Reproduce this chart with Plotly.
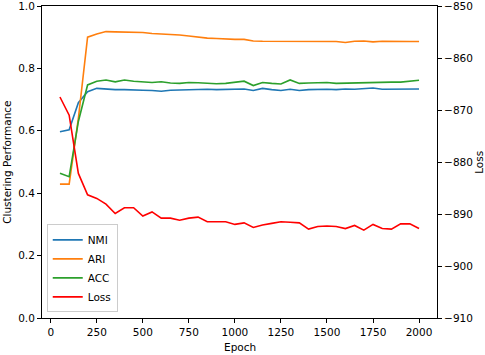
import plotly.graph_objects as go

epochs = list(range(50, 2001, 50))

nmi = [0.597, 0.603, 0.690, 0.725, 0.736, 0.733, 0.732, 0.732, 0.730, 0.730,
       0.729, 0.727, 0.730, 0.731, 0.731, 0.733, 0.733, 0.732, 0.733, 0.734,
       0.734, 0.729, 0.736, 0.732, 0.729, 0.733, 0.729, 0.732, 0.733, 0.733,
       0.732, 0.734, 0.733, 0.735, 0.737, 0.733, 0.733, 0.732, 0.733, 0.734]

ari = [0.429, 0.429, 0.640, 0.900, 0.910, 0.918, 0.917, 0.917, 0.916, 0.915,
       0.912, 0.911, 0.908, 0.907, 0.904, 0.900, 0.897, 0.896, 0.894, 0.893,
       0.893, 0.888, 0.887, 0.887, 0.887, 0.888, 0.886, 0.887, 0.888, 0.888,
       0.886, 0.883, 0.887, 0.888, 0.885, 0.887, 0.886, 0.885, 0.886, 0.886]

acc = [0.464, 0.453, 0.630, 0.747, 0.759, 0.763, 0.757, 0.763, 0.759, 0.757,
       0.755, 0.757, 0.753, 0.752, 0.755, 0.754, 0.752, 0.751, 0.752, 0.755,
       0.759, 0.745, 0.755, 0.752, 0.750, 0.763, 0.752, 0.753, 0.755, 0.755,
       0.752, 0.753, 0.754, 0.755, 0.756, 0.757, 0.756, 0.756, 0.759, 0.762]

loss = [-867.5, -871.0, -882.2, -886.3, -887.0, -888.1, -889.9, -888.8, -888.8, -890.4,
        -889.6, -890.8, -890.8, -891.2, -890.8, -890.6, -891.5, -891.5, -891.5, -892.0,
        -891.7, -892.6, -892.1, -891.8, -891.5, -891.6, -891.7, -892.9, -892.4, -892.3,
        -892.4, -892.8, -892.2, -893.1, -892.0, -892.8, -892.9, -891.9, -891.9, -892.8]

x_ticks = [0, 250, 500, 750, 1000, 1250, 1500, 1750, 2000]

FONT = "DejaVu Sans"
FS = 10.5
fig = go.Figure()
lw = 1.6
fig.add_trace(go.Scatter(x=epochs, y=nmi, mode="lines", name="NMI",
                         line=dict(color="#1f77b4", width=lw)))
fig.add_trace(go.Scatter(x=epochs, y=ari, mode="lines", name="ARI",
                         line=dict(color="#ff7f0e", width=lw)))
fig.add_trace(go.Scatter(x=epochs, y=acc, mode="lines", name="ACC",
                         line=dict(color="#2ca02c", width=lw)))
fig.add_trace(go.Scatter(x=epochs, y=loss, mode="lines", name="Loss",
                         line=dict(color="#ff0000", width=lw), yaxis="y2"))

axis_common = dict(showgrid=False, zeroline=False, showline=True, linecolor="black",
                   linewidth=1, ticks="outside", ticklen=4, tickcolor="black",
                   automargin=False, ticklabeloverflow="allow",
                   tickfont=dict(family=FONT, size=FS, color="black"))

fig.update_layout(
    width=485, height=355,
    margin=dict(l=42, r=48, t=6, b=37),
    paper_bgcolor="white", plot_bgcolor="white",
    font=dict(family=FONT, size=FS, color="black"),
    xaxis=dict(range=[-47.5, 2097.5], tickvals=x_ticks, mirror=True, **axis_common),
    yaxis=dict(range=[0, 1], dtick=0.2, tickformat=".1f", **axis_common),
    yaxis2=dict(range=[-910, -850], dtick=10, overlaying="y", side="right", **axis_common),
    legend=dict(x=0.012, y=0.018, xanchor="left", yanchor="bottom",
                bgcolor="rgba(255,255,255,0.8)", bordercolor="#cccccc", borderwidth=1,
                font=dict(family=FONT, size=FS), itemwidth=30, tracegroupgap=0),
    showlegend=True,
    annotations=[
        dict(text="Epoch", xref="paper", yref="paper", x=0.5, y=-0.092,
             xanchor="center", yanchor="middle", showarrow=False,
             font=dict(family=FONT, size=FS, color="black")),
        dict(text="Clustering Performance", xref="paper", yref="paper", x=-0.089, y=0.5,
             xanchor="center", yanchor="middle", showarrow=False, textangle=-90,
             font=dict(family=FONT, size=FS, color="black")),
        dict(text="Loss", xref="paper", yref="paper", x=1.106, y=0.5,
             xanchor="center", yanchor="middle", showarrow=False, textangle=-90,
             font=dict(family=FONT, size=FS, color="black")),
    ],
)

fig.write_html("out.html", config={"displayModeBar": False},
               post_script="document.body.style.margin='0';document.body.style.padding='0';"
                           "document.documentElement.style.overflow='hidden';")
